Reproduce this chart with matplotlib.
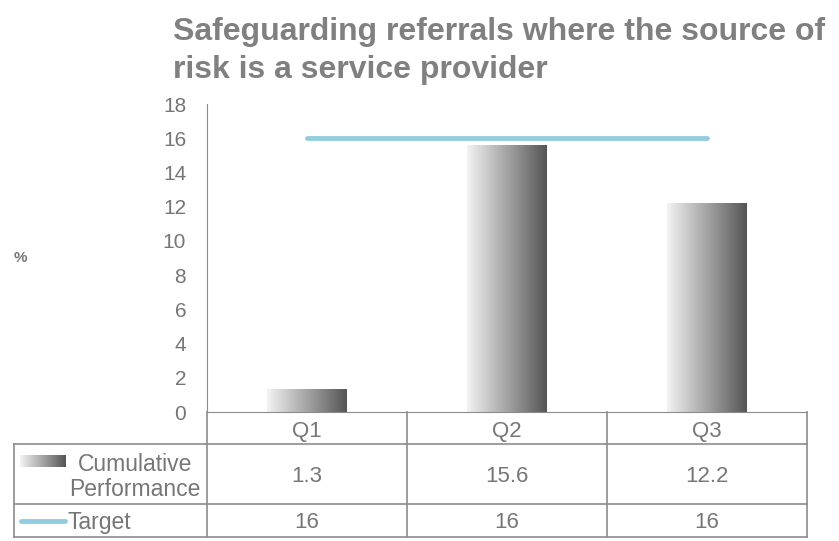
import numpy as np
import matplotlib.pyplot as plt
from matplotlib.colors import LinearSegmentedColormap
from matplotlib.lines import Line2D

# chart data
quarters = ['Q1', 'Q2', 'Q3']
performance = [1.3, 15.6, 12.2]
target = [16, 16, 16]
row_labels = ['Cumulative\nPerformance', 'Target']
title = 'Safeguarding referrals where the source of\nrisk is a service provider'

plt.rcParams['font.family'] = ['Liberation Sans', 'DejaVu Sans']

W, H = 839, 541
TXT = '#767676'
GRID = '#8c8c8c'
BLUE = '#93cddd'


def fx(px):
    return px / W


def fy(py):
    return 1 - py / H


fig = plt.figure(figsize=(W / 100, H / 100), dpi=100)
ax = fig.add_axes([fx(207), fy(412), fx(807) - fx(207), fy(104) - fy(412)])

cmap = LinearSegmentedColormap.from_list('bargrad', ['#f3f3f3', '#555555'])
grad = np.linspace(0, 1, 256).reshape(1, -1)

x = np.arange(len(quarters))
bars = ax.bar(x, performance, width=0.4, color='none', zorder=2)
for b in bars:
    x0, y0, w, h = b.get_x(), b.get_y(), b.get_width(), b.get_height()
    ax.imshow(grad, cmap=cmap, extent=[x0, x0 + w, y0, y0 + h], aspect='auto', zorder=2)

ax.plot(x, target, color=BLUE, lw=3.5, solid_capstyle='round', zorder=3)

ax.set_xlim(-0.5, 2.5)
ax.set_ylim(0, 18)
ax.set_yticks(range(0, 19, 2))
ax.set_xticks([])
ax.tick_params(axis='y', length=0, pad=15, labelsize=15, labelcolor=TXT)
for s in ['top', 'right']:
    ax.spines[s].set_visible(False)
ax.spines['left'].set_color(GRID)
ax.spines['bottom'].set_color(GRID)

# title and axis label
fig.text(fx(173), fy(17), title, ha='left', va='top', fontsize=23,
         fontweight='bold', color='#808080', linespacing=1.35)
fig.text(fx(20), fy(258), '%', ha='center', va='center', fontsize=11,
         fontweight='bold', color=TXT)

# data table under the axes
cols = [207, 407, 607, 807]
rows = [412, 444, 504, 537]


def hline(y, x0, x1):
    fig.add_artist(Line2D([fx(x0), fx(x1)], [fy(y), fy(y)], color=GRID, lw=1.2))


def vline(xp, y0, y1):
    fig.add_artist(Line2D([fx(xp), fx(xp)], [fy(y0), fy(y1)], color=GRID, lw=1.2))


for r in rows[1:]:
    hline(r, 14, 807)
for c in cols:
    vline(c, 412, 537)
vline(14, 444, 537)

for i, q in enumerate(quarters):
    cx = (cols[i] + cols[i + 1]) / 2
    fig.text(fx(cx), fy(431), q, ha='center', va='center', fontsize=16, color=TXT)
    fig.text(fx(cx), fy(477), f'{performance[i]:g}', ha='center', va='center',
             fontsize=16, color=TXT)
    fig.text(fx(cx), fy(523), f'{target[i]:g}', ha='center', va='center',
             fontsize=16, color=TXT)

fig.text(fx(135), fy(477), row_labels[0], ha='center', va='center', fontsize=16.5,
         color=TXT, linespacing=1.1)
fig.text(fx(68), fy(523), row_labels[1], ha='left', va='center', fontsize=16.5, color=TXT)

# legend keys in the table
icon = fig.add_axes([fx(20), fy(467), fx(66) - fx(20), fy(455) - fy(467)])
icon.imshow(grad, cmap=cmap, aspect='auto')
icon.axis('off')
fig.add_artist(Line2D([fx(21), fx(65)], [fy(521), fy(521)], color=BLUE, lw=3.5,
                      solid_capstyle='round'))

fig.savefig('out.png', dpi=100)
